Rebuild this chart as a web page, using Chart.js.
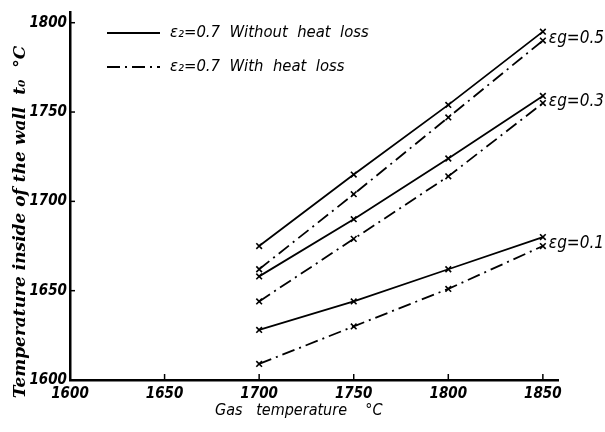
<!DOCTYPE html>
<html>
<head>
<meta charset="utf-8">
<script src="https://cdn.jsdelivr.net/npm/chart.js@4/dist/chart.umd.min.js"></script>
<style>
  html, body { margin: 0; padding: 0; background: #fff; }
  #wrap { width: 605px; height: 432px; }
</style>
</head>
<body>
<div id="wrap"><canvas id="wallChart" width="605" height="432"></canvas></div>
<script>
// Gas temperature (°C) on x, wall temperature t0 (°C) on y
const gasTemps = [1700, 1750, 1800, 1850];

const eg05Without = [1675, 1715, 1754, 1795];
const eg05With    = [1662, 1704, 1747, 1790];
const eg03Without = [1658, 1690, 1724, 1759];
const eg03With    = [1644, 1679, 1714, 1755];
const eg01Without = [1628, 1644, 1662, 1680];
const eg01With    = [1609, 1630, 1651, 1675];

const xTickValues = [1600, 1650, 1700, 1750, 1800, 1850];
const yTickValues = [1600, 1650, 1700, 1750, 1800];

const curveLabels = ['εg=0.5', 'εg=0.3', 'εg=0.1'];
const legendLabels = ['ε₂=0.7  Without  heat  loss', 'ε₂=0.7  With  heat  loss'];

const xTitle = 'Gas   temperature    °C';
const yTitle = 'Temperature inside of the wall  t₀  °C';

const DASH_DOT = [13, 5, 2, 5];
const narrow = '"Liberation Sans Narrow", "DejaVu Sans Condensed", sans-serif';

function toPoints(values) {
    return values.map((v, i) => ({ x: gasTemps[i], y: v }));
}

function series(values, dashed) {
    return {
        data: toPoints(values),
        borderColor: '#000',
        borderWidth: 1.8,
        borderDash: dashed ? DASH_DOT : [],
        pointStyle: 'crossRot',
        pointRadius: 4,
        pointBorderWidth: 1.6,
        pointBorderColor: '#000',
        showLine: true,
        fill: false,
        tension: 0
    };
}

// inward tick marks, legend, curve labels and axis titles
const decorations = {
    id: 'decorations',
    afterDraw(chart) {
        const ctx = chart.ctx;
        const xs = chart.scales.x;
        const ys = chart.scales.y;
        const area = chart.chartArea;
        ctx.save();
        ctx.strokeStyle = '#000';
        ctx.fillStyle = '#000';
        ctx.lineWidth = 1.5;

        // tick marks pointing into the plot
        xTickValues.slice(1).forEach(v => {
            const px = xs.getPixelForValue(v);
            ctx.beginPath();
            ctx.moveTo(px, area.bottom);
            ctx.lineTo(px, area.bottom - 6);
            ctx.stroke();
        });
        yTickValues.slice(1).forEach(v => {
            const py = ys.getPixelForValue(v);
            ctx.beginPath();
            ctx.moveTo(area.left, py);
            ctx.lineTo(area.left + 5, py);
            ctx.stroke();
        });

        // legend
        ctx.lineWidth = 1.8;
        ctx.font = 'italic 16.5px ' + narrow;
        ctx.textBaseline = 'middle';
        ctx.textAlign = 'left';
        [[33, []], [67, DASH_DOT]].forEach(([y, dash], i) => {
            ctx.setLineDash(dash);
            ctx.beginPath();
            ctx.moveTo(107, y);
            ctx.lineTo(160, y);
            ctx.stroke();
            ctx.setLineDash([]);
            ctx.fillText(legendLabels[i], 170, y);
        });

        // labels at the end of each pair of curves
        ctx.font = 'italic 17px ' + narrow;
        const pairs = [[eg05Without, eg05With], [eg03Without, eg03With], [eg01Without, eg01With]];
        pairs.forEach((p, i) => {
            const last = gasTemps.length - 1;
            const yMid = (ys.getPixelForValue(p[0][last]) + ys.getPixelForValue(p[1][last])) / 2;
            ctx.fillText(curveLabels[i], xs.getPixelForValue(gasTemps[last]) + 6, yMid + 2);
        });

        // x title
        ctx.font = 'italic 16px ' + narrow;
        ctx.fillText(xTitle, 215, 411);

        // y title
        ctx.translate(21, 222);
        ctx.rotate(-Math.PI / 2);
        ctx.textAlign = 'center';
        ctx.font = 'italic bold 17px "DejaVu Serif", "Liberation Serif", serif';
        ctx.fillText(yTitle, 0, 0);
        ctx.restore();
    }
};

document.addEventListener('DOMContentLoaded', function() {
    const ctx = document.getElementById('wallChart').getContext('2d');
    const tickFont = { family: narrow, size: 15, style: 'italic', weight: 'bold' };

    new Chart(ctx, {
        type: 'scatter',
        data: {
            datasets: [
                series(eg05Without, false),
                series(eg05With, true),
                series(eg03Without, false),
                series(eg03With, true),
                series(eg01Without, false),
                series(eg01With, true)
            ]
        },
        options: {
            responsive: false,
            animation: false,
            layout: { padding: { top: 6, right: 47, left: 0, bottom: 0 } },
            scales: {
                x: {
                    type: 'linear',
                    min: 1600,
                    max: 1858,
                    afterBuildTicks: scale => {
                        scale.ticks = xTickValues.map(v => ({ value: v }));
                    },
                    afterFit: scale => { scale.height = 52; },
                    grid: { drawOnChartArea: false, drawTicks: false },
                    border: { color: '#000', width: 2.5 },
                    ticks: {
                        color: '#000',
                        font: tickFont,
                        padding: 5,
                        maxRotation: 0,
                        callback: v => String(v)
                    }
                },
                y: {
                    type: 'linear',
                    min: 1600,
                    max: 1806,
                    afterBuildTicks: scale => {
                        scale.ticks = yTickValues.map(v => ({ value: v }));
                    },
                    afterFit: scale => { scale.width = 70; },
                    grid: { drawOnChartArea: false, drawTicks: false },
                    border: { color: '#000', width: 2.5 },
                    ticks: {
                        color: '#000',
                        font: tickFont,
                        padding: 3,
                        callback: v => String(v)
                    }
                }
            },
            plugins: {
                legend: { display: false },
                tooltip: { enabled: false }
            }
        },
        plugins: [decorations]
    });
});
</script>
</body>
</html>
